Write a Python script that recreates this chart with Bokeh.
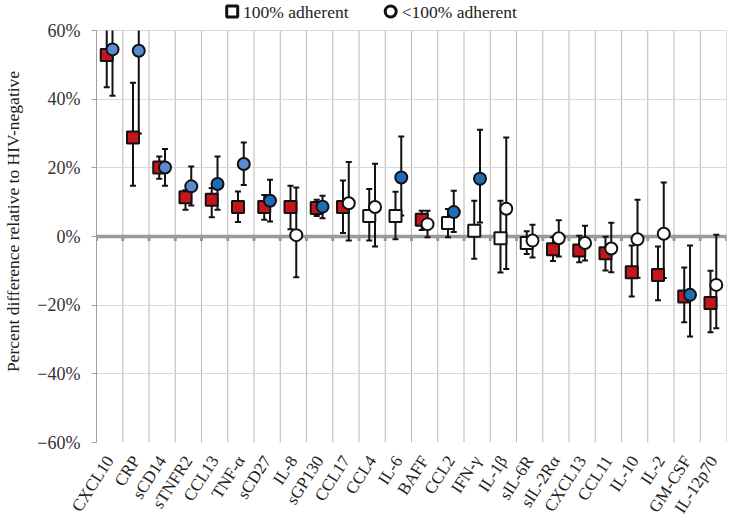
import numpy as np
from bokeh.plotting import figure
from bokeh.models import (ColumnDataSource, FixedTicker, CustomJSTickFormatter, Span, Range1d)
from bokeh.core.properties import value
from bokeh.embed import file_html
from bokeh.resources import INLINE

# ---------------- data ----------------
cytokines = ["CXCL10", "CRP", "sCD14", "sTNFR2", "CCL13", "TNF-α", "sCD27", "IL-8",
             "sGP130", "CCL17", "CCL4", "IL-6", "BAFF", "CCL2", "IFN-γ", "IL-1β",
             "sIL-6R", "sIL-2Rα", "CXCL13", "CCL11", "IL-10", "IL-2", "GM-CSF", "IL-12p70"]

# 100% adherent (squares)
adh_est = [52.9, 28.8, 20.1, 11.4, 10.7, 8.6, 8.6, 8.6, 8.3, 8.6, 6.0, 6.0,
           4.9, 3.9, 1.7, -0.5, -1.9, -3.7, -4.1, -4.9, -10.4, -11.2, -17.5, -19.4]
adh_lo = [43.5, 14.8, 16.8, 7.8, 5.6, 4.2, 4.9, 2.1, 6.0, 1.0, -1.2, -0.8,
          1.9, -0.2, -6.5, -10.5, -5.1, -7.1, -7.5, -9.9, -17.5, -18.6, -25.0, -27.9]
adh_hi = [68.0, 44.8, 23.3, 13.5, 14.1, 13.1, 12.1, 14.8, 10.7, 16.3, 13.8, 13.0,
          7.5, 8.0, 10.4, 10.4, 1.5, -0.2, 0.2, -0.1, -2.6, -2.9, -9.0, -10.0]
adh_sig = ["sig", "sig", "sig", "sig", "sig", "sig", "sig", "sig", "sig", "sig", "ns", "ns",
           "sig", "ns", "ns", "ns", "ns", "sig", "sig", "sig", "sig", "sig", "sig", "sig"]

# <100% adherent (circles)
non_est = [54.5, 54.1, 20.1, 14.6, 15.3, 21.1, 10.4, 0.4, 8.7, 9.7, 8.6, 17.2,
           3.6, 7.1, 16.8, 8.1, -1.2, -0.5, -1.9, -3.5, -0.8, 0.8, -17.0, -14.1]
non_lo = [41.0, 30.0, 14.8, 9.0, 7.8, 15.0, 4.4, -11.9, 5.3, -1.2, -2.9, 6.1,
          -0.2, 1.3, 4.1, -9.5, -6.1, -5.8, -7.0, -10.4, -12.0, -12.1, -29.1, -26.7]
non_hi = [70.0, 72.0, 25.5, 20.4, 23.3, 27.4, 16.5, 14.3, 11.9, 21.7, 21.2, 29.1,
          7.5, 13.3, 31.1, 28.8, 3.4, 4.7, 3.1, 4.0, 10.7, 15.7, -2.6, 0.5]
non_sig = ["light", "light", "light", "light", "dark", "light", "dark", "ns", "dark", "ns", "ns", "dark",
           "ns", "dark", "dark", "ns", "ns", "ns", "ns", "ns", "ns", "ns", "dark", "ns"]

y_ticks = [-60, -40, -20, 0, 20, 40, 60]
legend_labels = ["100% adherent", "<100% adherent"]

# ---------------- styles / layout ----------------
FONT = "Liberation Serif"
sq_colors = {"sig": "#C4161C", "ns": "#FFFFFF"}
ci_colors = {"light": "#5A8AD0", "dark": "#1F6CB6", "ns": "#FFFFFF"}
OFF = 0.11
W, H = 729, 526
BL, BR, BB = 90, 3, 84          # borders (px)
PLOT_TOP_PX = 30                # where the 60% line sits
frame_h = H - BB
frame_w = W - BL - BR
y_lo, y_hi = y_ticks[0], y_ticks[-1]
y_top = y_hi + PLOT_TOP_PX * (y_hi - y_lo) / (frame_h - PLOT_TOP_PX)

n = len(cytokines)
centers = np.arange(n) + 0.5
bounds = list(np.arange(n + 1).astype(float))


def px_to_x(px):
    return (px - BL) / frame_w * n


def py_to_y(py):
    return y_top - py * (y_top - y_lo) / frame_h


def series_source(xs, est, lo, hi, fills):
    hi = np.asarray(hi, dtype=float)
    return ColumnDataSource(dict(
        x=xs, y=est, lo=lo,
        hi=np.minimum(hi, y_hi),                       # bars clipped at the top of the axis
        cap_hi=np.where(hi <= y_hi, hi, np.nan),       # no cap when the bar runs off the axis
        fill=fills))


sq_src = series_source(centers - OFF, adh_est, adh_lo, adh_hi, [sq_colors[s] for s in adh_sig])
ci_src = series_source(centers + OFF, non_est, non_lo, non_hi, [ci_colors[s] for s in non_sig])

p = figure(width=W, height=H, x_range=Range1d(0, n), y_range=Range1d(y_lo, y_top),
           output_backend="svg", toolbar_location=None,
           min_border_left=BL, min_border_top=0, min_border_right=BR, min_border_bottom=BB)
p.outline_line_color = None
p.background_fill_color = "#FFFFFF"

# grids
p.ygrid.ticker = FixedTicker(ticks=y_ticks)
p.ygrid.grid_line_color = "#D9D9D9"
p.ygrid.grid_line_width = 1
p.xgrid.visible = False
p.segment(x0=bounds, y0=[y_lo] * (n + 1), x1=bounds, y1=[y_hi] * (n + 1),
          line_color="#B8B8B8", line_width=1, level="underlay")

# y axis
ya = p.yaxis[0]
ya.bounds = (y_lo, y_hi)
ya.ticker = FixedTicker(ticks=y_ticks)
ya.formatter = CustomJSTickFormatter(code="return (tick < 0 ? '\u2212' : '') + Math.abs(tick).toFixed(0) + '%';")
ya.axis_label = "Percent difference relative to HIV-negative"
ya.axis_label_text_font = FONT
ya.axis_label_text_font_style = "normal"
ya.axis_label_text_font_size = "17.5px"
ya.axis_label_text_color = "#222222"
ya.axis_label_standoff = 11
ya.major_label_text_font = FONT
ya.major_label_text_font_size = "18px"
ya.major_label_text_color = "#333333"
ya.major_label_standoff = 11
ya.axis_line_color = "#A0A0A0"
ya.major_tick_line_color = "#A0A0A0"
ya.major_tick_out = 5
ya.major_tick_in = 0
ya.minor_tick_line_color = None

# x axis (category labels)
xa = p.xaxis[0]
xa.ticker = FixedTicker(ticks=list(centers))
xa.major_label_overrides = {float(c): lab for c, lab in zip(centers, cytokines)}
xa.major_label_orientation = 1.0
xa.major_label_text_font = FONT
xa.major_label_text_font_size = "17px"
xa.major_label_text_color = "#222222"
xa.major_label_standoff = 9
xa.axis_line_color = None
xa.major_tick_line_color = None
xa.minor_tick_line_color = None

# zero line with small ticks
zero = Span(location=0, dimension="width", line_color="#9A9A9A", line_width=3.5, level="underlay")
p.add_layout(zero)
p.segment(x0=bounds, y0=[0] * (n + 1), x1=bounds, y1=[-1.3] * (n + 1),
          line_color="#9A9A9A", line_width=3)

# error bars
for src in (sq_src, ci_src):
    p.segment(x0="x", y0="lo", x1="x", y1="hi", source=src, line_color="#111111", line_width=2)
    p.scatter(x="x", y="lo", source=src, marker="dash", size=6, line_color="#111111", line_width=2)
    p.scatter(x="x", y="cap_hi", source=src, marker="dash", size=6, line_color="#111111", line_width=2)

p.scatter(x="x", y="y", source=sq_src, marker="square", size=12, fill_color="fill",
          line_color="#111111", line_width=2)
p.scatter(x="x", y="y", source=ci_src, marker="circle", size=12, fill_color="fill",
          line_color="#111111", line_width=2)

# legend (drawn above the 60% line)
key_px = [227, 387]
text_px = [238, 398]
key_py = 11
leg_y = py_to_y(key_py)
p.scatter(x=[px_to_x(key_px[0])], y=[leg_y], marker="square", size=11, fill_color="#FFFFFF",
          line_color="#111111", line_width=3)
p.scatter(x=[px_to_x(key_px[1])], y=[leg_y], marker="circle", size=11, fill_color="#FFFFFF",
          line_color="#111111", line_width=3)
p.text(x=[px_to_x(t) for t in text_px], y=[leg_y, leg_y], text=legend_labels,
       text_font=value("'Liberation Serif', serif"), text_font_size="17.5px", text_color="#222222",
       text_align="left", text_baseline="middle")

open("out.html", "w").write(file_html(p, INLINE))
